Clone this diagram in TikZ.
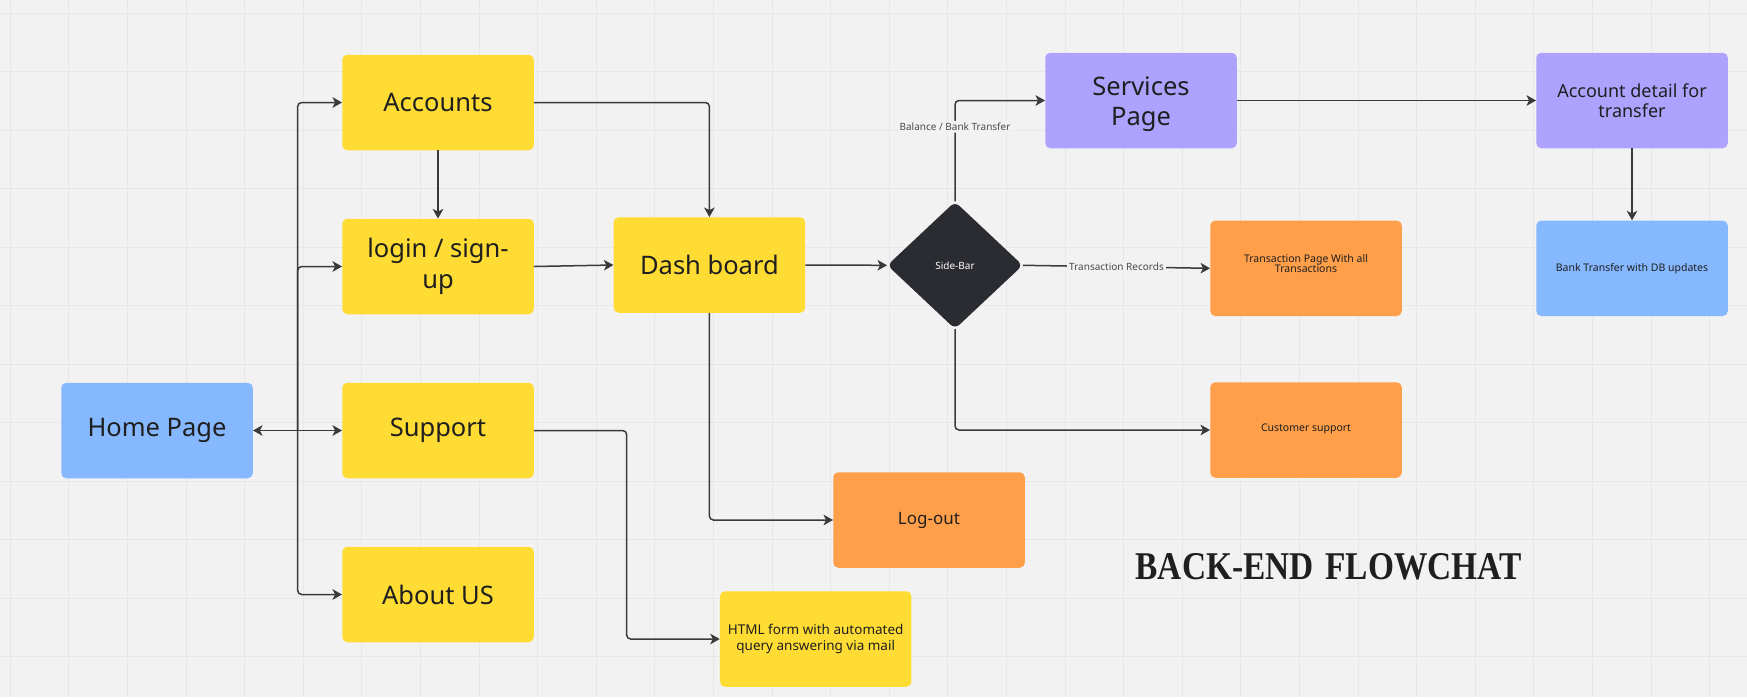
\documentclass[tikz,border=0pt]{standalone}
\usepackage{fontspec}
\setmainfont{Noto Sans}
\newfontfamily\titlefont{Liberation Serif}
\usetikzlibrary{arrows.meta,shapes.geometric}

\definecolor{bg}{HTML}{F2F2F2}
\definecolor{gridc}{HTML}{E7E7E7}
\definecolor{ink}{HTML}{1F1F1F}
\definecolor{wire}{HTML}{3A3A3A}
\definecolor{lblgray}{HTML}{4A4A4A}
\definecolor{cyellow}{HTML}{FFDC33}
\definecolor{cblue}{HTML}{86B8FF}
\definecolor{cpurple}{HTML}{ADA3FF}
\definecolor{corange}{HTML}{FF9F4A}
\definecolor{cdark}{HTML}{2B2C31}

\tikzset{
  card/.style={rounded corners=5pt, minimum width=191.5pt, minimum height=95.5pt,
               inner sep=0pt, align=center, text=ink},
  ycard/.style={card, fill=cyellow},
  bcard/.style={card, fill=cblue},
  pcard/.style={card, fill=cpurple},
  ocard/.style={card, fill=corange},
  bigtxt/.style={font=\fontsize{25.5}{30.5}\selectfont},
  midtxt/.style={font=\fontsize{18}{20.5}\selectfont},
  smalltxt/.style={font=\fontsize{10.5}{11.8}\selectfont},
  conn/.style={draw=wire, line width=1.5pt, rounded corners=4pt,
               -{Stealth[length=9.5pt,width=10.5pt,inset=2.5pt]}},
  elabel/.style={font=\fontsize{10}{12}\selectfont, text=lblgray, fill=bg, inner sep=2pt},
}
% shift a label visually while keeping its measured extent
\newcommand{\nudge}[2]{\raisebox{#1}[\height][\depth]{#2}}

\begin{document}
\begin{tikzpicture}[x=1pt,y=-1pt]
\useasboundingbox (0,0) rectangle (1747,697);
\fill[bg] (0,0) rectangle (1747,697);

% background grid
\foreach \i in {0,...,29}
  \draw[gridc, line width=1pt] ({10.3+58.6*\i},0) -- ++(0,697);
\foreach \j in {0,...,11}
  \draw[gridc, line width=1pt] (0,{13.3+58.5*\j}) -- ++(1747,0);

% left column
\node[bcard, bigtxt] (home) at (157,430.5) {Home Page};
\node[ycard, bigtxt] (acc) at (438,102.5) {Accounts};
\node[ycard, bigtxt] (login) at (438,266.5) {login / sign-\\up};
\node[ycard, bigtxt] (sup) at (438,430.5) {Support};
\node[ycard, bigtxt] (about) at (438,594.5) {About US};

% middle
\node[ycard, bigtxt] (dash) at (709.4,265) {Dash board};
\node[ocard, font=\fontsize{17}{20}\selectfont] (logout) at (929,520) {Log-out};
\node[ycard, font=\fontsize{13.5}{15.5}\selectfont] (html) at (815.7,639)
  {HTML form with automated\\query answering via mail};
\node[diamond, fill=cdark, rounded corners=6pt, minimum width=135.5pt,
      minimum height=127.3pt, aspect=1.064, inner sep=0pt, text=white,
      font=\fontsize{10}{12}\selectfont] (side) at (955,265.3) {Side-Bar};

% right part
\node[pcard, bigtxt] (svc) at (1141,100.5)
  {\nudge{-4pt}{\begin{tabular}{@{}c@{}}Services\\Page\end{tabular}}};
\node[pcard, midtxt] (accd) at (1632,100.5) {Account detail for\\transfer};
\node[bcard, smalltxt] (bank) at (1632,268.3) {Bank Transfer with DB updates};
\node[ocard, smalltxt] (trans) at (1306,268.3)
  {\nudge{3.5pt}{\begin{tabular}{@{}c@{}}Transaction Page With all\\[-1.5pt]Transactions\end{tabular}}};
\node[ocard, smalltxt] (cust) at (1306,430) {\nudge{1.5pt}{Customer support}};

\node[text=ink] (title) at (1328.6,567)
  {\titlefont\bfseries\fontsize{39.3}{40}\selectfont\scalebox{0.85}[1]{BACK-END\hspace{0.35em}FLOWCHAT}};

% connectors from the home page
\coordinate (hub) at (297.7,430.5);
\draw[conn, {Stealth[length=9.5pt,width=10.5pt,inset=2.5pt]}-{Stealth[length=9.5pt,width=10.5pt,inset=2.5pt]}]
  (home.east) -- (sup.west);
\draw[conn] (hub) |- (acc.west);
\draw[conn] (hub) |- (login.west);
\draw[conn] (hub) |- (about.west);

% account flow
\draw[conn] (acc.south) -- (login.north);
\draw[conn] (acc.east) -| (dash.north);
\draw[conn] (login.east) -- (dash.west);
\draw[conn] (dash.east) -- (side.west);
\draw[conn] (dash.south) |- (logout.west);
\draw[conn] (sup.east) -- ++(92.7,0) |- (html.west);

% side-bar branches
\draw[conn] (side.north) |- (svc.west)
  node[elabel, pos=0.37] {Balance / Bank Transfer};
\draw[conn] (side.east) -- (trans.west)
  node[elabel, midway] {Transaction Records};
\draw[conn] (side.south) |- (cust.west);

% transfer flow
\draw[conn] (svc.east) -- (accd.west);
\draw[conn] (accd.south) -- (bank.north);
\end{tikzpicture}
\end{document}
